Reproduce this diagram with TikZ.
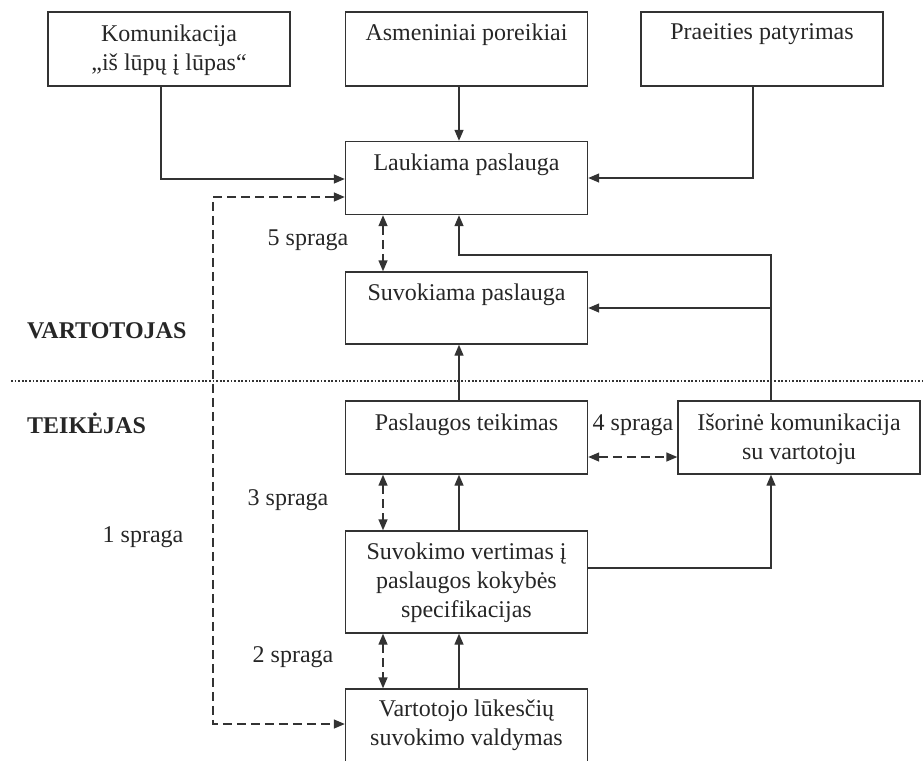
\documentclass[tikz,border=0pt]{standalone}
\usepackage{fontspec}
\setmainfont{Liberation Serif}
\usetikzlibrary{arrows.meta}
\definecolor{linec}{HTML}{333333}
\definecolor{txtc}{HTML}{262626}
\begin{document}
\begin{tikzpicture}[x=1pt,y=-1pt,
  box/.style={draw=linec, line width=1.4pt, minimum width=242pt, minimum height=73pt, inner sep=0pt},
  lbl/.style={font=\fontsize{24}{29}\selectfont, text=txtc, align=center, inner sep=0pt},
  side/.style={font=\fontsize{24}{29}\selectfont\bfseries, text=txtc, inner sep=0pt, anchor=west},
  conn/.style={draw=linec, line width=1.4pt, -{Triangle[length=11pt,width=9pt]}},
  gap/.style={draw=linec, line width=1.4pt, dash pattern=on 9pt off 5pt, {Triangle[length=11pt,width=9pt]}-{Triangle[length=11pt,width=9pt]}},
  sep/.style={draw=linec, line width=1.8pt, dash pattern=on 1.8pt off 1.8pt},
]
\useasboundingbox (0,0) rectangle (923,760);

% boxes
\node[box, minimum height=74pt] (A) at (169,49) {};
\node[box, minimum height=74pt] (B) at (466.5,49) {};
\node[box, minimum height=74pt] (C) at (762,49) {};
\node[box] (lauk) at (466.5,178) {};
\node[box, minimum height=72pt] (suvok) at (466.5,308) {};
\node[box] (pasl) at (466.5,437.5) {};
\node[box] (isor) at (799,437.5) {};
\node[box, minimum height=102pt] (vert) at (466.5,582) {};
\node[box, minimum height=102pt] (vart) at (466.5,740) {};

% box texts
\node[lbl] (tA) at (169,50) {Komunikacija\\„iš lūpų į lūpas“};
\node[lbl] (tB) at (466.5,35) {Asmeniniai poreikiai};
\node[lbl] (tC) at (762,34) {Praeities patyrimas};
\node[lbl] (tlauk) at (466.5,165) {Laukiama paslauga};
\node[lbl] (tsuvok) at (466.5,295) {Suvokiama paslauga};
\node[lbl] (tpasl) at (466.5,425) {Paslaugos teikimas};
\node[lbl] (tisor) at (799,439) {Išorinė komunikacija\\su vartotoju};
\node[lbl] (tvert) at (466.5,583) {Suvokimo vertimas į\\paslaugos kokybės\\specifikacijas};
\node[lbl] (tvart) at (466.5,725) {Vartotojo lūkesčių\\suvokimo valdymas};

% side labels
\node[side] (vartotojas) at (27,331) {VARTOTOJAS};
\node[side] (teikejas) at (27,423) {TEIKĖJAS};

% gap labels
\node[lbl] (g5) at (308,240) {5 spraga};
\node[lbl] (g4) at (633,425) {4 spraga};
\node[lbl] (g3) at (288,500) {3 spraga};
\node[lbl] (g1) at (143,537) {1 spraga};
\node[lbl] (g2) at (293,657) {2 spraga};

% separator
\coordinate (sepL) at (11,381);
\coordinate (sepR) at (923,381);
\draw[sep] (sepL) -- (sepR);

% solid connectors
\draw[conn] (A.south -| 161,0) |- (lauk.west |- 0,179);
\draw[conn] (B.south -| 459,0) -- (lauk.north -| 459,0);
\draw[conn] (C.south -| 753,0) |- (lauk.east |- 0,178);
\draw[conn] (isor.north -| 771,0) -- (771,255) -| (lauk.south -| 459,0);
\coordinate (br) at (771,308);
\draw[conn] (br) -- (suvok.east);
\draw[conn] (pasl.north -| 459,0) -- (suvok.south -| 459,0);
\draw[conn] (vert.north -| 459,0) -- (pasl.south -| 459,0);
\draw[conn] (vert.east |- 0,568) -| (isor.south -| 771,0);
\draw[conn] (vart.north -| 459,0) -- (vert.south -| 459,0);

% dashed gaps
\draw[gap] (lauk.west |- 0,197) -- (213,197) -- (213,724) -- (vart.west |- 0,724);
\draw[gap] (lauk.south -| 383,0) -- (suvok.north -| 383,0);
\draw[gap] (pasl.east |- 0,457) -- (isor.west |- 0,457);
\draw[gap] (pasl.south -| 383,0) -- (vert.north -| 383,0);
\draw[gap] (vert.south -| 383,0) -- (vart.north -| 383,0);
\end{tikzpicture}
\end{document}
